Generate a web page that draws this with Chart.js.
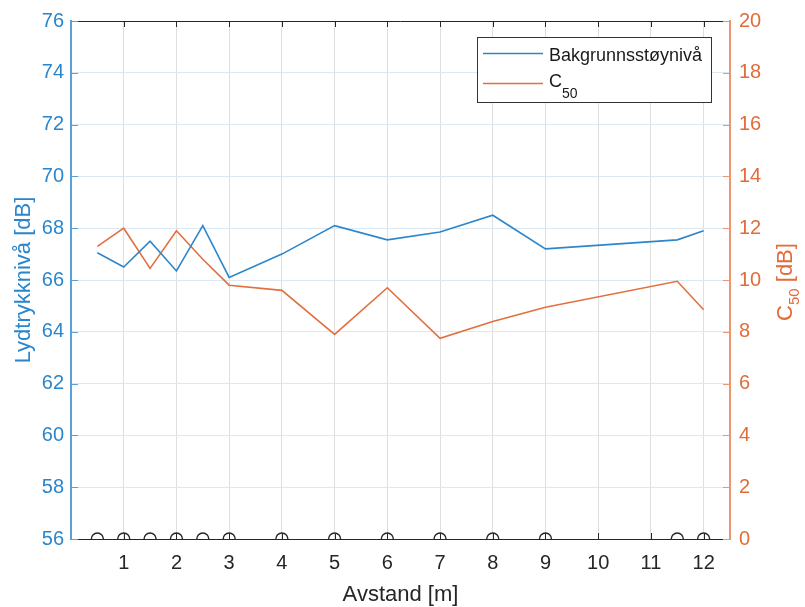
<!DOCTYPE html>
<html>
<head>
<meta charset="utf-8">
<script src="https://cdn.jsdelivr.net/npm/chart.js@4/dist/chart.umd.min.js"></script>
<style>
  html, body { margin: 0; padding: 0; background: #ffffff; }
  canvas { display: block; }
</style>
</head>
<body>
<canvas id="chart" width="805" height="607"></canvas>
<script>
// Measurement positions along the room (m)
const distances = [0.5, 1, 1.5, 2, 2.5, 3, 4, 5, 6, 7, 8, 9, 11.5, 12];
// Background noise level at each position (dB, left axis)
const backgroundLevel = [67.05, 66.5, 67.5, 66.35, 68.1, 66.1, 67.0, 68.1, 67.55, 67.85, 68.5, 67.2, 67.55, 67.9];
// Clarity C50 at each position (dB, right axis)
const c50Values = [11.3, 12.0, 10.45, 11.9, 10.8, 9.8, 9.6, 7.9, 9.7, 7.75, 8.4, 8.95, 9.95, 8.85];
// Level at which the position markers sit (bottom of the left axis)
const markerLevel = 56;

// Tick labels
const xTickValues = [1, 2, 3, 4, 5, 6, 7, 8, 9, 10, 11, 12];
const leftTickValues = [56, 58, 60, 62, 64, 66, 68, 70, 72, 74, 76];
const rightTickValues = [0, 2, 4, 6, 8, 10, 12, 14, 16, 18, 20];

const FONT = '"Liberation Sans", Arial, Helvetica, sans-serif';
const BLUE = '#2c86cc';
const BLUE_TEXT = '#2a86cc';
const BLUE_AXIS = '#5b9fd8';
const ORANGE = '#e2703e';
const ORANGE_TEXT = '#e06c3a';
const ORANGE_AXIS = '#eb9671';
const DARK = '#262626';

// Inward tick marks, top frame edge, right axis title and the legend box
const frameExtras = {
  id: 'frameExtras',
  afterDraw(chart) {
    const { ctx, chartArea: a, scales } = chart;
    const xs = scales.x, yl = scales.yL, yr = scales.yR;
    const len = 6;
    ctx.save();
    ctx.lineWidth = 1;

    // top edge of the box
    ctx.strokeStyle = DARK;
    ctx.beginPath();
    ctx.moveTo(a.left, Math.round(a.top) + 0.5);
    ctx.lineTo(a.right, Math.round(a.top) + 0.5);
    ctx.stroke();

    // x ticks, bottom and top, pointing inward
    ctx.beginPath();
    xs.ticks.forEach(t => {
      const px = Math.round(xs.getPixelForValue(t.value)) + 0.5;
      ctx.moveTo(px, a.bottom); ctx.lineTo(px, a.bottom - len);
      ctx.moveTo(px, a.top); ctx.lineTo(px, a.top + len);
    });
    ctx.stroke();

    // left axis ticks
    ctx.strokeStyle = BLUE_AXIS;
    ctx.beginPath();
    yl.ticks.forEach(t => {
      const py = Math.round(yl.getPixelForValue(t.value)) + 0.5;
      ctx.moveTo(a.left, py); ctx.lineTo(a.left + len + 1, py);
    });
    ctx.stroke();

    // right axis ticks
    ctx.strokeStyle = ORANGE_AXIS;
    ctx.beginPath();
    yr.ticks.forEach(t => {
      const py = Math.round(yr.getPixelForValue(t.value)) + 0.5;
      ctx.moveTo(a.right, py); ctx.lineTo(a.right - len - 1, py);
    });
    ctx.stroke();

    // right axis title with subscript
    ctx.save();
    ctx.translate(784, (a.top + a.bottom) / 2 + 2);
    ctx.rotate(-Math.PI / 2);
    ctx.fillStyle = ORANGE_TEXT;
    ctx.textBaseline = 'alphabetic';
    ctx.textAlign = 'left';
    const big = '22px ' + FONT, small = '15px ' + FONT;
    ctx.font = big; const wC = ctx.measureText('C').width; const wU = ctx.measureText(' [dB]').width;
    ctx.font = small; const wS = ctx.measureText('50').width;
    const x0 = -(wC + wS + wU) / 2;
    ctx.font = big; ctx.fillText('C', x0, 8);
    ctx.font = small; ctx.fillText('50', x0 + wC, 15);
    ctx.font = big; ctx.fillText(' [dB]', x0 + wC + wS, 8);
    ctx.restore();

    // legend
    const lx = 477.5, ly = 37.5, lw = 234, lh = 65;
    ctx.fillStyle = '#ffffff';
    ctx.fillRect(lx, ly, lw, lh);
    ctx.strokeStyle = '#333333';
    ctx.lineWidth = 1;
    ctx.strokeRect(lx, ly, lw, lh);
    const entries = chart.data.datasets.slice(0, 2);
    const rows = [53.5, 83.5];
    entries.forEach((ds, i) => {
      ctx.strokeStyle = ds.borderColor;
      ctx.lineWidth = 1.5;
      ctx.beginPath();
      ctx.moveTo(483, rows[i]); ctx.lineTo(543, rows[i]);
      ctx.stroke();
    });
    ctx.fillStyle = '#1a1a1a';
    ctx.textAlign = 'left';
    ctx.textBaseline = 'alphabetic';
    ctx.font = '18px ' + FONT;
    ctx.fillText(entries[0].label, 549, 60.5);
    ctx.fillText('C', 549, 87);
    const wc = ctx.measureText('C').width;
    ctx.font = '14px ' + FONT;
    ctx.fillText('50', 549 + wc, 98);
    ctx.restore();
  }
};

new Chart(document.getElementById('chart'), {
  type: 'line',
  data: {
    datasets: [
      {
        label: 'Bakgrunnsstøynivå',
        data: distances.map((d, i) => ({ x: d, y: backgroundLevel[i] })),
        yAxisID: 'yL',
        borderColor: BLUE,
        borderWidth: 1.6,
        pointRadius: 0,
        tension: 0,
        fill: false
      },
      {
        label: 'C50',
        data: distances.map((d, i) => ({ x: d, y: c50Values[i] })),
        yAxisID: 'yR',
        borderColor: ORANGE,
        borderWidth: 1.6,
        pointRadius: 0,
        tension: 0,
        fill: false
      },
      {
        label: 'Posisjoner',
        data: distances.map(d => ({ x: d, y: markerLevel })),
        yAxisID: 'yL',
        showLine: false,
        pointStyle: 'circle',
        pointRadius: 6,
        pointBorderWidth: 1.4,
        pointBorderColor: DARK,
        pointBackgroundColor: 'rgba(0,0,0,0)',
        clip: 0
      }
    ]
  },
  options: {
    responsive: false,
    animation: false,
    devicePixelRatio: 1,
    layout: { padding: { top: 19, left: 0, right: 0, bottom: 0 } },
    plugins: {
      legend: { display: false },
      tooltip: { enabled: false }
    },
    scales: {
      x: {
        type: 'linear',
        position: 'bottom',
        min: 0,
        max: 12.5,
        afterBuildTicks: s => { s.ticks = xTickValues.map(v => ({ value: v })); },
        afterFit: s => { s.height = 68; },
        grid: { color: '#dfdfdf', lineWidth: 1, drawTicks: false },
        border: { color: DARK, width: 1 },
        ticks: { color: DARK, font: { family: FONT, size: 20 }, padding: 12, maxRotation: 0, autoSkip: false },
        title: { display: true, text: 'Avstand [m]', color: DARK, font: { family: FONT, size: 22, lineHeight: 1.1 }, padding: { top: 0, bottom: 0 } }
      },
      yL: {
        type: 'linear',
        position: 'left',
        min: 56,
        max: 76,
        afterBuildTicks: s => { s.ticks = leftTickValues.map(v => ({ value: v })); },
        afterFit: s => { s.width = 71; },
        grid: { color: '#dbe9f5', lineWidth: 1, drawTicks: false },
        border: { color: BLUE_AXIS, width: 2 },
        ticks: { color: BLUE_TEXT, font: { family: FONT, size: 20 }, padding: 7 },
        title: { display: true, text: 'Lydtrykknivå [dB]', color: BLUE_TEXT, font: { family: FONT, size: 22 }, padding: { top: 11, bottom: 0 } }
      },
      yR: {
        type: 'linear',
        position: 'right',
        min: 0,
        max: 20,
        afterBuildTicks: s => { s.ticks = rightTickValues.map(v => ({ value: v })); },
        afterFit: s => { s.width = 75; },
        grid: { drawOnChartArea: false, drawTicks: false },
        border: { color: ORANGE_AXIS, width: 2 },
        ticks: { color: ORANGE_TEXT, font: { family: FONT, size: 20 }, padding: 9 },
        title: { display: false }
      }
    }
  },
  plugins: [frameExtras]
});
</script>
</body>
</html>
